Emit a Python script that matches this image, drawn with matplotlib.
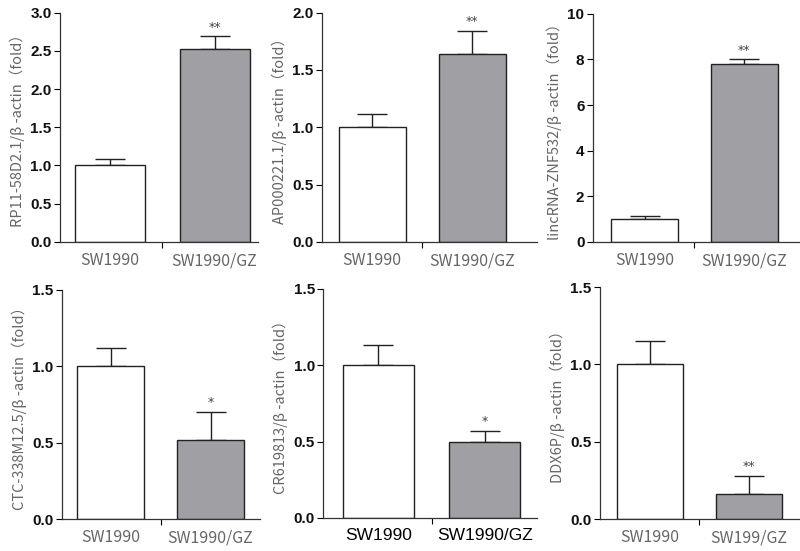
import matplotlib
matplotlib.use("Agg")
import matplotlib.pyplot as plt

# data
groups = ["SW1990", "SW1990/GZ"]
groups_last = ["SW1990", "SW199/GZ"]

ylabels = [
    "RP11-58D2.1/β -actin（fold）",
    "AP000221.1/β -actin（fold）",
    "lincRNA-ZNF532/β -actin（fold）",
    "CTC-338M12.5/β -actin（fold）",
    "CR619813/β -actin（fold）",
    "DDX6P/β -actin（fold）",
]
means = [
    [1.00, 2.52],
    [1.00, 1.64],
    [1.02, 7.78],
    [1.00, 0.52],
    [1.00, 0.50],
    [1.00, 0.16],
]
errs = [
    [0.09, 0.17],
    [0.12, 0.20],
    [0.10, 0.22],
    [0.12, 0.18],
    [0.13, 0.07],
    [0.15, 0.12],
]
stars = ["**", "**", "**", "*", "*", "**"]
yticks = [
    [0, 0.5, 1.0, 1.5, 2.0, 2.5, 3.0],
    [0, 0.5, 1.0, 1.5, 2.0],
    [0, 2, 4, 6, 8, 10],
    [0, 0.5, 1.0, 1.5],
    [0, 0.5, 1.0, 1.5],
    [0, 0.5, 1.0, 1.5],
]
ytick_fmt = ["{:.1f}", "{:.1f}", "{:d}", "{:.1f}", "{:.1f}", "{:.1f}"]

# axes boxes [left, bottom, width, height] in figure fraction
boxes = [
    [0.075, 0.561, 0.248, 0.416],
    [0.4025, 0.561, 0.269, 0.416],
    [0.741, 0.561, 0.259, 0.414],
    [0.0775, 0.058, 0.248, 0.416],
    [0.404, 0.060, 0.267, 0.416],
    [0.750, 0.058, 0.250, 0.421],
]
xlims = [
    (-0.48, 1.42),
    (-0.50, 1.65),
    (-0.52, 1.56),
    (-0.49, 1.50),
    (-0.52, 1.49),
    (-0.505, 1.52),
]

cjk = ["Noto Sans CJK SC", "DejaVu Sans"]
gray_txt = "#666666"

fig = plt.figure(figsize=(8, 5.51), dpi=100)

for i in range(6):
    ax = fig.add_axes(boxes[i])
    top = yticks[i][-1]
    ax.bar([0, 1], means[i], width=0.67, color=["white", "#a0a0a4"],
           edgecolor="#222222", linewidth=1.0, zorder=2)
    ax.errorbar([0, 1], means[i], yerr=[[0, 0], errs[i]], fmt="none",
                ecolor="#222222", elinewidth=1.0, capsize=11, capthick=1.0,
                zorder=1)
    ax.text(1, means[i][1] + errs[i][1] + top * 0.012, stars[i],
            ha="center", va="bottom", fontsize=9, color="#444444")
    ax.set_xlim(*xlims[i])
    ax.set_ylim(0, top)
    ax.set_yticks(yticks[i])
    ax.set_yticklabels([ytick_fmt[i].format(v) for v in yticks[i]],
                       fontsize=11, fontweight="bold",
                       family="Liberation Sans", color="#111111")
    ax.set_xticks([0.5])
    ax.set_xticklabels([""])
    ax.tick_params(axis="y", direction="out", length=4, width=0.8, pad=2)
    ax.tick_params(axis="x", direction="out", length=4, width=0.8)
    for s in ["top", "right"]:
        ax.spines[s].set_visible(False)
    for s in ["left", "bottom"]:
        ax.spines[s].set_linewidth(0.9)
        ax.spines[s].set_color("#333333")

    names = groups_last if i == 5 else groups
    for k, name in enumerate(names):
        if i == 4:
            ax.text(k, -0.045, name, transform=ax.get_xaxis_transform(),
                    ha="center", va="top", fontsize=12.5,
                    family="Liberation Sans", color="black")
        else:
            ax.text(k, -0.045, name, transform=ax.get_xaxis_transform(),
                    ha="center", va="top", fontsize=11.5,
                    family=cjk, color=gray_txt)
    ax.set_ylabel(ylabels[i], family=cjk, fontsize=10.5, color=gray_txt,
                  labelpad=4)

plt.savefig("out.png", dpi=100)
